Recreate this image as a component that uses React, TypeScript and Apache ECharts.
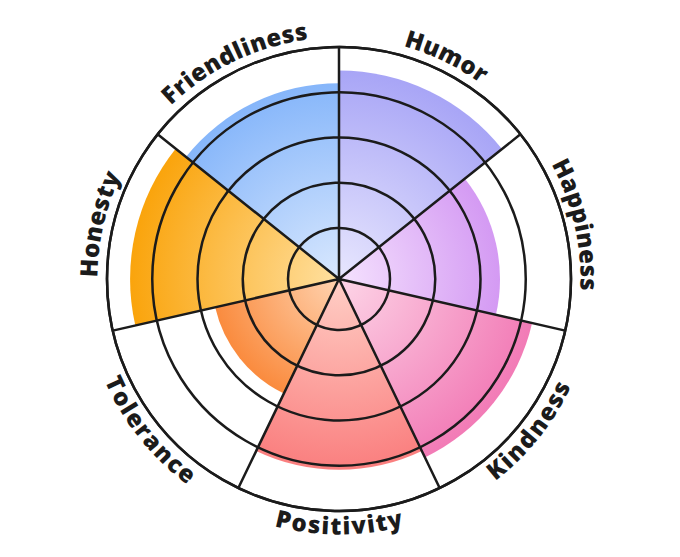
import { useEffect, useRef } from 'react';
import * as echarts from 'echarts';

const categories = ['Humor', 'Happiness', 'Kindness', 'Positivity', 'Tolerance', 'Honesty', 'Friendliness'];
const scores = [4.48, 3.43, 4.25, 4.09, 2.68, 4.49, 4.2];
const innerColors = ['#e8e7fe', '#f5e2fe', '#fdd5e7', '#ffcfc6', '#ffd3b0', '#ffe0a0', '#d9e8fe'];
const outerColors = ['#a8a5f6', '#d49af3', '#f27bb6', '#fa7f7f', '#fa8b3e', '#faa40c', '#86b6fa'];
const ringTicks = [0, 1, 2, 3, 4, 5];

const W = 680;
const H = 557;
const CX = 339;
const CY = 279;
const R_OUT = 232;
const R_HOLE = 5.75;
const UNIT = (R_OUT - R_HOLE) / (ringTicks.length - 1);
const OFFSET = R_HOLE / UNIT;
const LINE = '#1b1b1b';
const LINE_W = 2.5;

const LABEL_SIZE = 24;
const LABEL_FAMILY = '"Open Sans", "Noto Sans", sans-serif';
const LETTER_SPACING = 1;
const R_LABEL_CW = 251;
const R_LABEL_CCW = 246;

function buildLabels() {
  const canvas = document.createElement('canvas');
  const ctx = canvas.getContext('2d') as CanvasRenderingContext2D;
  ctx.font = `800 ${LABEL_SIZE}px ${LABEL_FAMILY}`;
  const step = 360 / categories.length;
  const els: any[] = [];
  categories.forEach((name, k) => {
    const centerDeg = step * (k + 0.5);
    const ccw = centerDeg > 90 && centerDeg < 270;
    const r = ccw ? R_LABEL_CCW : R_LABEL_CW;
    const chars = Array.from(name);
    const widths = chars.map((c) => ctx.measureText(c).width);
    const total = widths.reduce((a, b) => a + b, 0) + LETTER_SPACING * (chars.length - 1);
    let acc = -total / 2;
    chars.forEach((c, i) => {
      const s = acc + widths[i] / 2;
      acc += widths[i] + LETTER_SPACING;
      const deg = centerDeg + (ccw ? -1 : 1) * (s / r) * (180 / Math.PI);
      const rad = (deg * Math.PI) / 180;
      const x = CX + r * Math.sin(rad);
      const y = CY - r * Math.cos(rad);
      const rot = ccw ? -(rad - Math.PI) : -rad;
      els.push({
        type: 'text',
        x,
        y,
        rotation: rot,
        silent: true,
        style: {
          text: c,
          fill: LINE,
          fontSize: LABEL_SIZE,
          fontWeight: 800,
          fontFamily: LABEL_FAMILY,
          align: 'center',
          verticalAlign: 'middle',
          textAlign: 'center',
          textVerticalAlign: 'middle',
        },
      });
    });
  });
  return els;
}

export default function App() {
  const ref = useRef<HTMLDivElement>(null);
  useEffect(() => {
    document.body.style.margin = '0';
    if (!ref.current) return;
    const chart = echarts.init(ref.current, undefined, { renderer: 'svg' });
    const lineStyle = { color: LINE, width: LINE_W };
    const option: any = {
      animation: false,
      polar: [
        { center: [CX, CY], radius: [0, R_OUT] },
        { center: [CX, CY], radius: [R_HOLE, R_OUT] },
      ],
      angleAxis: [
        {
          polarIndex: 0,
          type: 'category',
          data: categories,
          startAngle: 90,
          clockwise: true,
          z: 10,
          axisLine: { show: true, lineStyle },
          axisTick: { show: false },
          axisLabel: { show: false },
          splitLine: { show: true, lineStyle },
        },
        {
          polarIndex: 1,
          type: 'category',
          data: categories,
          startAngle: 90,
          clockwise: true,
          axisLine: { show: false },
          axisTick: { show: false },
          axisLabel: { show: false },
          splitLine: { show: false },
        },
      ],
      radiusAxis: [
        {
          polarIndex: 0,
          type: 'value',
          min: 0,
          max: ringTicks[ringTicks.length - 1] + OFFSET,
          axisLine: { show: false },
          axisTick: { show: false },
          axisLabel: { show: false },
          splitLine: { show: false },
        },
        {
          polarIndex: 1,
          type: 'value',
          min: ringTicks[0],
          max: ringTicks[ringTicks.length - 1],
          interval: 1,
          z: 10,
          axisLine: { show: false },
          axisTick: { show: false },
          axisLabel: { show: false },
          splitLine: {
            show: true,
            lineStyle: {
              color: ringTicks.map((t) => (t === 0 ? 'rgba(0,0,0,0)' : LINE)),
              width: LINE_W,
            },
          },
        },
      ],
      series: [
        {
          type: 'bar',
          coordinateSystem: 'polar',
          polarIndex: 0,
          barCategoryGap: '0%',
          z: 2,
          data: scores.map((v, i) => ({
            value: v + OFFSET,
            itemStyle: {
              color: {
                type: 'radial',
                x: CX,
                y: CY,
                r: (v + OFFSET) * UNIT,
                global: true,
                colorStops: [
                  { offset: 0, color: innerColors[i] },
                  { offset: 1, color: outerColors[i] },
                ],
              },
            },
          })),
        },
      ],
      graphic: buildLabels(),
    };
    chart.setOption(option);
    return () => chart.dispose();
  }, []);
  return <div ref={ref} style={{ width: W, height: H }} />;
}
